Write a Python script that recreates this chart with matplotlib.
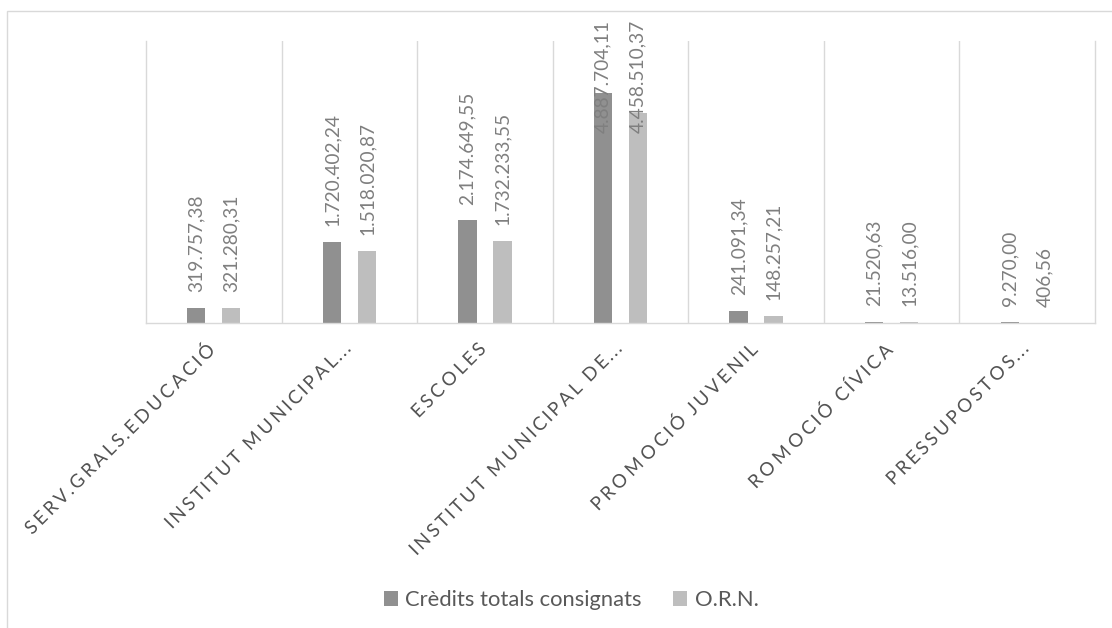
import matplotlib
matplotlib.use("Agg")
import matplotlib.pyplot as plt
import matplotlib.transforms as mtransforms
from matplotlib.patches import Rectangle
from matplotlib.patheffects import AbstractPathEffect
from matplotlib.path import Path
import numpy as np

categories = ["SERV.GRALS.EDUCACIÓ", "INSTITUT MUNICIPAL…", "ESCOLES",
              "INSTITUT MUNICIPAL DE…", "PROMOCIÓ JUVENIL", "ROMOCIÓ CÍVICA",
              "PRESSUPOSTOS…"]
credits = [319757.38, 1720402.24, 2174649.55, 4887704.11, 241091.34, 21520.63, 9270.00]
orn = [321280.31, 1518020.87, 1732233.55, 4458510.37, 148257.21, 13516.00, 406.56]
credits_labels = ["319.757,38", "1.720.402,24", "2.174.649,55", "4.887.704,11",
                  "241.091,34", "21.520,63", "9.270,00"]
orn_labels = ["321.280,31", "1.518.020,87", "1.732.233,55", "4.458.510,37",
              "148.257,21", "13.516,00", "406,56"]
series_names = ["Crèdits totals consignats", "O.R.N."]

FONT = ["Lato", "DejaVu Sans"]
plt.rcParams['font.family'] = FONT


class LetterSpacing(AbstractPathEffect):
    """Spread glyph contours apart (emulates character spacing), anchored at the right end."""

    def __init__(self, k):
        super().__init__()
        self.k = k

    def draw_path(self, renderer, gc, tpath, affine, rgbFace=None):
        codes = tpath.codes
        v = np.array(tpath.vertices, dtype=float)
        if codes is None or len(v) == 0:
            renderer.draw_path(gc, tpath, affine, rgbFace)
            return
        valid = codes != Path.CLOSEPOLY
        xmax = v[valid, 0].max()
        starts = list(np.where(codes == Path.MOVETO)[0]) + [len(v)]
        for s, e in zip(starts[:-1], starts[1:]):
            m = valid[s:e]
            xs = v[s:e, 0][m]
            if len(xs) == 0:
                continue
            cx = 0.5 * (xs.min() + xs.max())
            v[s:e, 0] += self.k * (cx - xmax)
        renderer.draw_path(gc, Path(v, codes), affine, rgbFace)


W, H, DPI = 1112, 628, 100
fig = plt.figure(figsize=(W / DPI, H / DPI), dpi=DPI)
fig.patch.set_facecolor("white")

# chart border
fig.patches.append(Rectangle((7 / W, -0.1), 1.2, (H - 11) / H + 0.1,
                             transform=fig.transFigure, fill=False,
                             edgecolor="#d9d9d9", lw=1.0, zorder=0))

ax = fig.add_axes([146 / W, 1 - 322.7 / H, (1095 - 146) / W, (322.7 - 40.7) / H])
x = np.arange(len(categories))
bw = 0.135
off = 0.129
c1, c2 = "#909090", "#bebebe"
ax.bar(x - off, credits, bw, color=c1, label=series_names[0], zorder=2)
ax.bar(x + off, orn, bw, color=c2, label=series_names[1], zorder=2)

ax.set_xlim(-0.5, len(categories) - 0.5)
ax.set_ylim(0, 6000000)
ax.set_yticks([])
for b in np.arange(0.5, len(categories) - 0.5, 1.0):
    ax.axvline(b, color="#d9d9d9", lw=1.0, zorder=1)
for s in ["left", "right", "bottom"]:
    ax.spines[s].set_color("#d9d9d9")
    ax.spines[s].set_linewidth(1.0)
ax.spines["top"].set_visible(False)

ax.set_xticks(x)
ax.set_xticklabels(categories, rotation=45, ha="right", va="top",
                   rotation_mode="anchor", color="#555555", fontsize=13.5)
ax.tick_params(axis="x", length=0, pad=12)
shift = mtransforms.ScaledTranslation(-7 / DPI, 0, fig.dpi_scale_trans)
for lab in ax.get_xticklabels():
    lab.set_path_effects([LetterSpacing(0.26)])
    lab.set_transform(lab.get_transform() + shift)

anns = []
for xs, vals, labs in [(x - off, credits, credits_labels), (x + off, orn, orn_labels)]:
    for xi, v, t in zip(xs, vals, labs):
        a = ax.annotate(t, (xi, v), xytext=(0, 11.5), textcoords="offset points",
                        rotation=90, ha="center", va="bottom", color="#7f7f7f",
                        fontsize=13.8, zorder=3)
        anns.append(a)

fig.canvas.draw()
renderer = fig.canvas.get_renderer()
cap = H - 20
for a in anns:
    bb = a.get_window_extent(renderer)
    if bb.y1 > cap:
        excess = (bb.y1 - cap) * 72 / DPI
        a.xyann = (0, 11.5 - excess)

fig.legend(loc="center", bbox_to_anchor=(571 / W, 1 - 600 / H), ncol=2,
           frameon=False, fontsize=15.8, labelcolor="#595959",
           handlelength=0.65, handleheight=0.65, handletextpad=0.35,
           columnspacing=1.4)

fig.savefig("out.png", dpi=DPI, facecolor="white")
